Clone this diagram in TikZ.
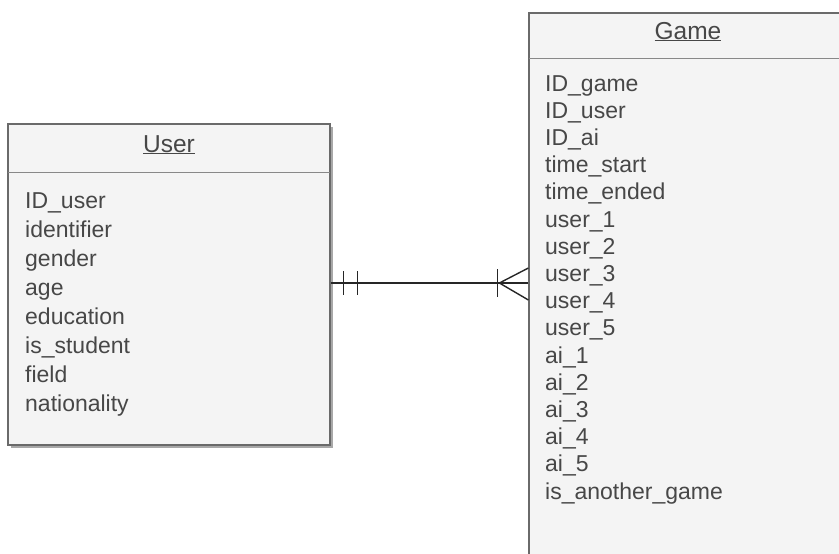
\documentclass[tikz,border=0pt]{standalone}
\usepackage{fontspec}
\setmainfont{Liberation Sans}
\usetikzlibrary{shadows}
\definecolor{boxfill}{HTML}{F4F4F4}
\definecolor{boxline}{HTML}{6A6A6A}
\definecolor{txt}{HTML}{474747}
\definecolor{shade}{HTML}{A8A8A8}
\tikzset{
  entity/.style={draw=boxline, line width=1.2pt, fill=boxfill, inner sep=0pt,
    drop shadow={shadow xshift=3pt, shadow yshift=-3pt, fill=shade, opacity=1}},
  title/.style={text=txt, font=\fontsize{24.5}{28}\selectfont, inner sep=0pt,
    text height=17pt, text depth=5pt},
  attr/.style={text=txt, font=\fontsize{23}{27}\selectfont, anchor=west, inner sep=0pt,
    text height=16pt, text depth=4pt},
  sep/.style={draw=boxline!80, line width=1pt},
  rel/.style={draw=black!85, line width=1.4pt},
}
\begin{document}
\begin{tikzpicture}[x=1pt,y=-1pt]
\useasboundingbox (0,0) rectangle (839,554);
\clip (0,0) rectangle (839,554);
% User entity
\node[entity, minimum width=322pt, minimum height=321pt] (user) at (169,284.5) {};
\draw[sep] (8,172) -- (330,172);
\node[title] (usertitle) at (169,146) {\underline{User}};
\foreach \t [count=\i from 0] in {ID\_user,identifier,gender,age,education,is\_student,field,nationality}{
  \node[attr] (u\i) at (25,{202+29*\i}) {\t};
}
% Game entity
\node[entity, minimum width=318pt, minimum height=562pt] (game) at (688,294) {};
\draw[sep] (529,58) -- (847,58);
\node[title] (gametitle) at (688,33) {\underline{Game}};
\foreach \t [count=\i from 0] in {ID\_game,ID\_user,ID\_ai,time\_start,time\_ended,user\_1,user\_2,user\_3,user\_4,user\_5,ai\_1,ai\_2,ai\_3,ai\_4,ai\_5,is\_another\_game}{
  \node[attr] (g\i) at (545,{85+27.2*\i}) {\t};
}
% relationship
\coordinate (a) at ([yshift=1.5pt]user.east);
\coordinate (b) at (game.west |- a);
\draw[rel] (a) -- (b);
\draw[rel] ([xshift=13pt,yshift=12pt]a) -- ([xshift=13pt,yshift=-12pt]a);
\draw[rel] ([xshift=27pt,yshift=12pt]a) -- ([xshift=27pt,yshift=-12pt]a);
\draw[rel] ([xshift=-31pt,yshift=14pt]b) -- ([xshift=-31pt,yshift=-14pt]b);
\draw[rel] ([yshift=15pt]b) -- ([xshift=-29pt]b) -- ([yshift=-17pt]b);
\end{tikzpicture}
\end{document}
